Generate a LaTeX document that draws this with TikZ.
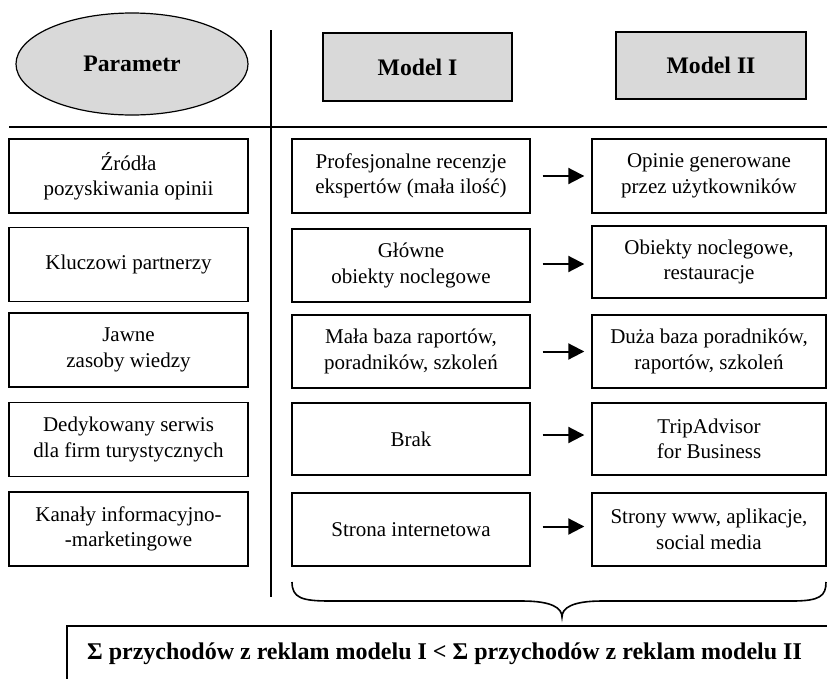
\documentclass[tikz,border=0pt]{standalone}
\usepackage{fontspec}
\setmainfont{Liberation Serif}
\usetikzlibrary{shapes.geometric,arrows.meta}
\definecolor{hdrgray}{HTML}{D9D9D9}
\begin{document}
\begin{tikzpicture}[x=1pt,y=-1pt,
  cellbox/.style={draw=black,line width=1.4pt,rectangle,inner sep=0pt,align=center,
    font=\fontsize{21}{25.5}\selectfont},
  leftcell/.style={cellbox,minimum width=239pt,minimum height=74pt},
  midcell/.style={cellbox,minimum width=238pt,minimum height=73pt},
  rightcell/.style={cellbox,minimum width=234pt,minimum height=73pt},
  hdrbox/.style={draw=black,line width=1.9pt,fill=hdrgray,rectangle,inner sep=0pt,
    font=\fontsize{23.7}{28}\selectfont\bfseries},
  arr/.style={line width=2pt,-{Triangle[length=16pt,width=16pt]},shorten <=12pt,shorten >=7pt},
  divider/.style={line width=2pt},
  bracestyle/.style={line width=1.6pt},
]
\useasboundingbox (0,0) rectangle (827,678);

% header
\node[ellipse,draw=black,line width=1.2pt,fill=hdrgray,minimum width=232pt,minimum height=102pt,
  inner sep=0pt,font=\fontsize{23.7}{28}\selectfont\bfseries] (param) at (132,64) {Parametr};
\node[hdrbox,minimum width=189pt,minimum height=68pt] (m1) at (417.5,67) {Model I};
\node[hdrbox,minimum width=190pt,minimum height=67pt] (m2) at (711,65.5) {Model II};

% dividers
\draw[divider] (271,30) -- (271,597);
\draw[divider] (9,127) -- (827,127);

% left column
\node[leftcell] (p1) at (128.5,176) {Źródła\\pozyskiwania opinii};
\node[leftcell] (p2) at (128.5,264.5) {Kluczowi partnerzy};
\node[leftcell] (p3) at (128.5,350) {Jawne\\zasoby wiedzy};
\node[leftcell] (p4) at (128.5,439.5) {Dedykowany serwis\\dla firm turystycznych};
\node[leftcell] (p5) at (128.5,529) {Kanały informacyjno-\\-marketingowe};

% middle column
\node[midcell,minimum height=74pt] (a1) at (411,176) {Profesjonalne recenzje\\ekspertów (mała ilość)};
\node[midcell] (a2) at (411,265.5) {Główne\\obiekty noclegowe};
\node[midcell] (a3) at (411,351.5) {Mała baza raportów,\\poradników, szkoleń};
\node[midcell,minimum height=72pt] (a4) at (411,439) {Brak};
\node[midcell] (a5) at (411,529.5) {Strona internetowa};

% right column
\node[rightcell,minimum height=74pt] (b1) at (709,176) {Opinie generowane\\przez użytkowników};
\node[rightcell,minimum height=72pt] (b2) at (709,262) {Obiekty noclegowe,\\restauracje};
\node[rightcell] (b3) at (709,351.5) {Duża baza poradników,\\raportów, szkoleń};
\node[rightcell,minimum height=72pt] (b4) at (709,439) {TripAdvisor\\for Business};
\node[rightcell] (b5) at (709,529.5) {Strony www, aplikacje,\\social media};

% arrows
\draw[arr] (a1.east) -- (b1.west);
\draw[arr] ([yshift=1.5pt]a2.east) -- ([yshift=-2pt]b2.west);
\draw[arr] (a3.east) -- (b3.west);
\draw[arr] ([yshift=4pt]a4.east) -- ([yshift=4pt]b4.west);
\draw[arr] ([yshift=3pt]a5.east) -- ([yshift=3pt]b5.west);

% brace
\coordinate (brL) at (292,582);
\coordinate (brR) at (826,582);
\coordinate (brTip) at (562,617);
\draw[bracestyle] (brL) .. controls (292,598) and (302,601) .. (330,601)
  -- (522,601) .. controls (552,601) and (562,608) .. (brTip)
  .. controls (562,608) and (572,601) .. (602,601)
  -- (792,601) .. controls (820,601) and (826,596) .. (brR);

% bottom box (cut by the picture's edge)
\draw[line width=1.6pt] (67,700) -- (67,626) -- (840,626);
\node[anchor=base,inner sep=0pt,font=\fontsize{24}{28}\selectfont\bfseries] (sum) at (444.5,659)
  {Σ przychodów z reklam modelu I < Σ przychodów z reklam modelu II};
\end{tikzpicture}
\end{document}
